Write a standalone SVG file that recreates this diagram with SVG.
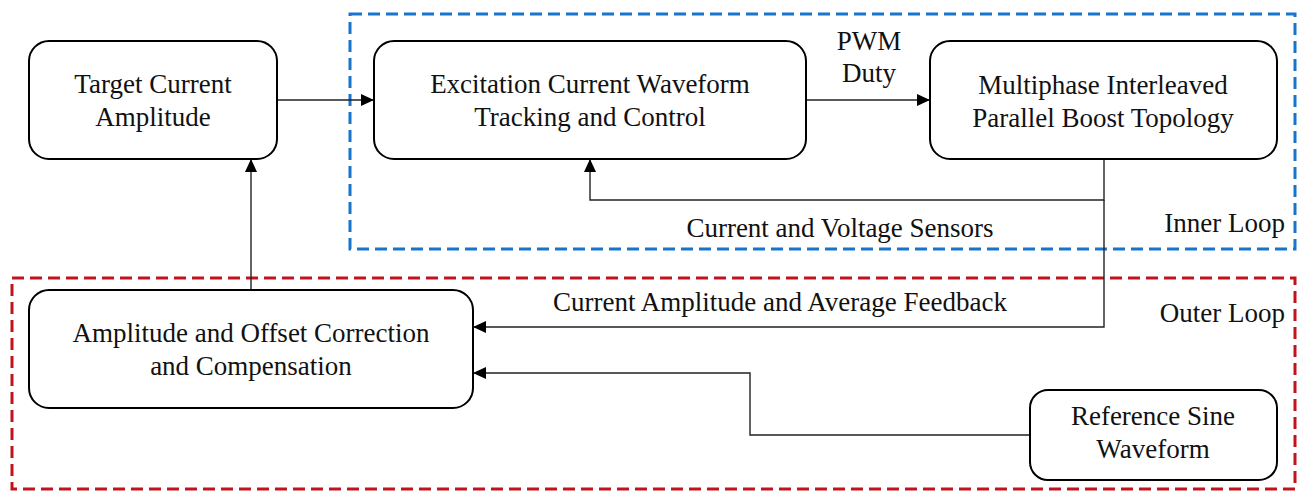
<svg xmlns="http://www.w3.org/2000/svg" width="1303" height="492" viewBox="0 0 1303 492">
<defs>
<style>
.box{fill:#fff;stroke:#000;stroke-width:2}
.t{font-family:"Liberation Serif","Times New Roman",serif;font-size:27px;fill:#111;text-anchor:middle}
.te{font-family:"Liberation Serif","Times New Roman",serif;font-size:27px;fill:#111;text-anchor:end}
.c{fill:none;stroke:#222;stroke-width:1.4}
.ca{fill:none;stroke:#222;stroke-width:1.4;marker-end:url(#ah)}
</style>
<marker id="ah" viewBox="0 0 13 12" refX="13" refY="6" markerWidth="13" markerHeight="12" markerUnits="userSpaceOnUse" orient="auto">
<path d="M0,0 L13,6 L0,12 Z" fill="#000"/>
</marker>
</defs>
<rect width="1303" height="492" fill="#fff"/>
<g id="inner-loop">
<rect x="350" y="14" width="945" height="235" fill="none" stroke="#1874CD" stroke-width="3" stroke-dasharray="12 6"/>
<text class="te" x="1285" y="232">Inner Loop</text>
</g>
<g id="outer-loop">
<rect x="12" y="278" width="1283" height="211" fill="none" stroke="#C0141C" stroke-width="3" stroke-dasharray="12 6"/>
<text class="te" x="1285" y="322">Outer Loop</text>
</g>
<g id="connectors">
<line class="ca" x1="277" y1="100" x2="374" y2="100"/>
<line class="ca" x1="806" y1="100" x2="930" y2="100"/>
<text class="t" x="869" y="50">PWM</text>
<text class="t" x="869" y="82">Duty</text>
<polyline class="ca" points="1104,159 1104,200 590,200 590,159"/>
<text class="t" x="840" y="237">Current and Voltage Sensors</text>
<polyline class="ca" points="1104,200 1104,327 473,327"/>
<text class="t" x="780" y="311">Current Amplitude and Average Feedback</text>
<polyline class="ca" points="1030,435 750,435 750,373 473,373"/>
<line class="ca" x1="251" y1="290" x2="251" y2="159"/>
</g>
<g id="target">
<rect class="box" x="29" y="41" width="248" height="118" rx="20"/>
<text class="t" x="153" y="93">Target Current</text>
<text class="t" x="153" y="126">Amplitude</text>
</g>
<g id="excitation">
<rect class="box" x="374" y="41" width="432" height="118" rx="20"/>
<text class="t" x="590" y="93">Excitation Current Waveform</text>
<text class="t" x="590" y="126">Tracking and Control</text>
</g>
<g id="boost">
<rect class="box" x="930" y="41" width="347" height="118" rx="20"/>
<text class="t" x="1103" y="94">Multiphase Interleaved</text>
<text class="t" x="1103" y="127">Parallel Boost Topology</text>
</g>
<g id="correction">
<rect class="box" x="29" y="290" width="444" height="118" rx="20"/>
<text class="t" x="251" y="342">Amplitude and Offset Correction</text>
<text class="t" x="251" y="375">and Compensation</text>
</g>
<g id="reference">
<rect class="box" x="1030" y="390" width="247" height="90" rx="18"/>
<text class="t" x="1153" y="425">Reference Sine</text>
<text class="t" x="1153" y="458">Waveform</text>
</g>
</svg>
